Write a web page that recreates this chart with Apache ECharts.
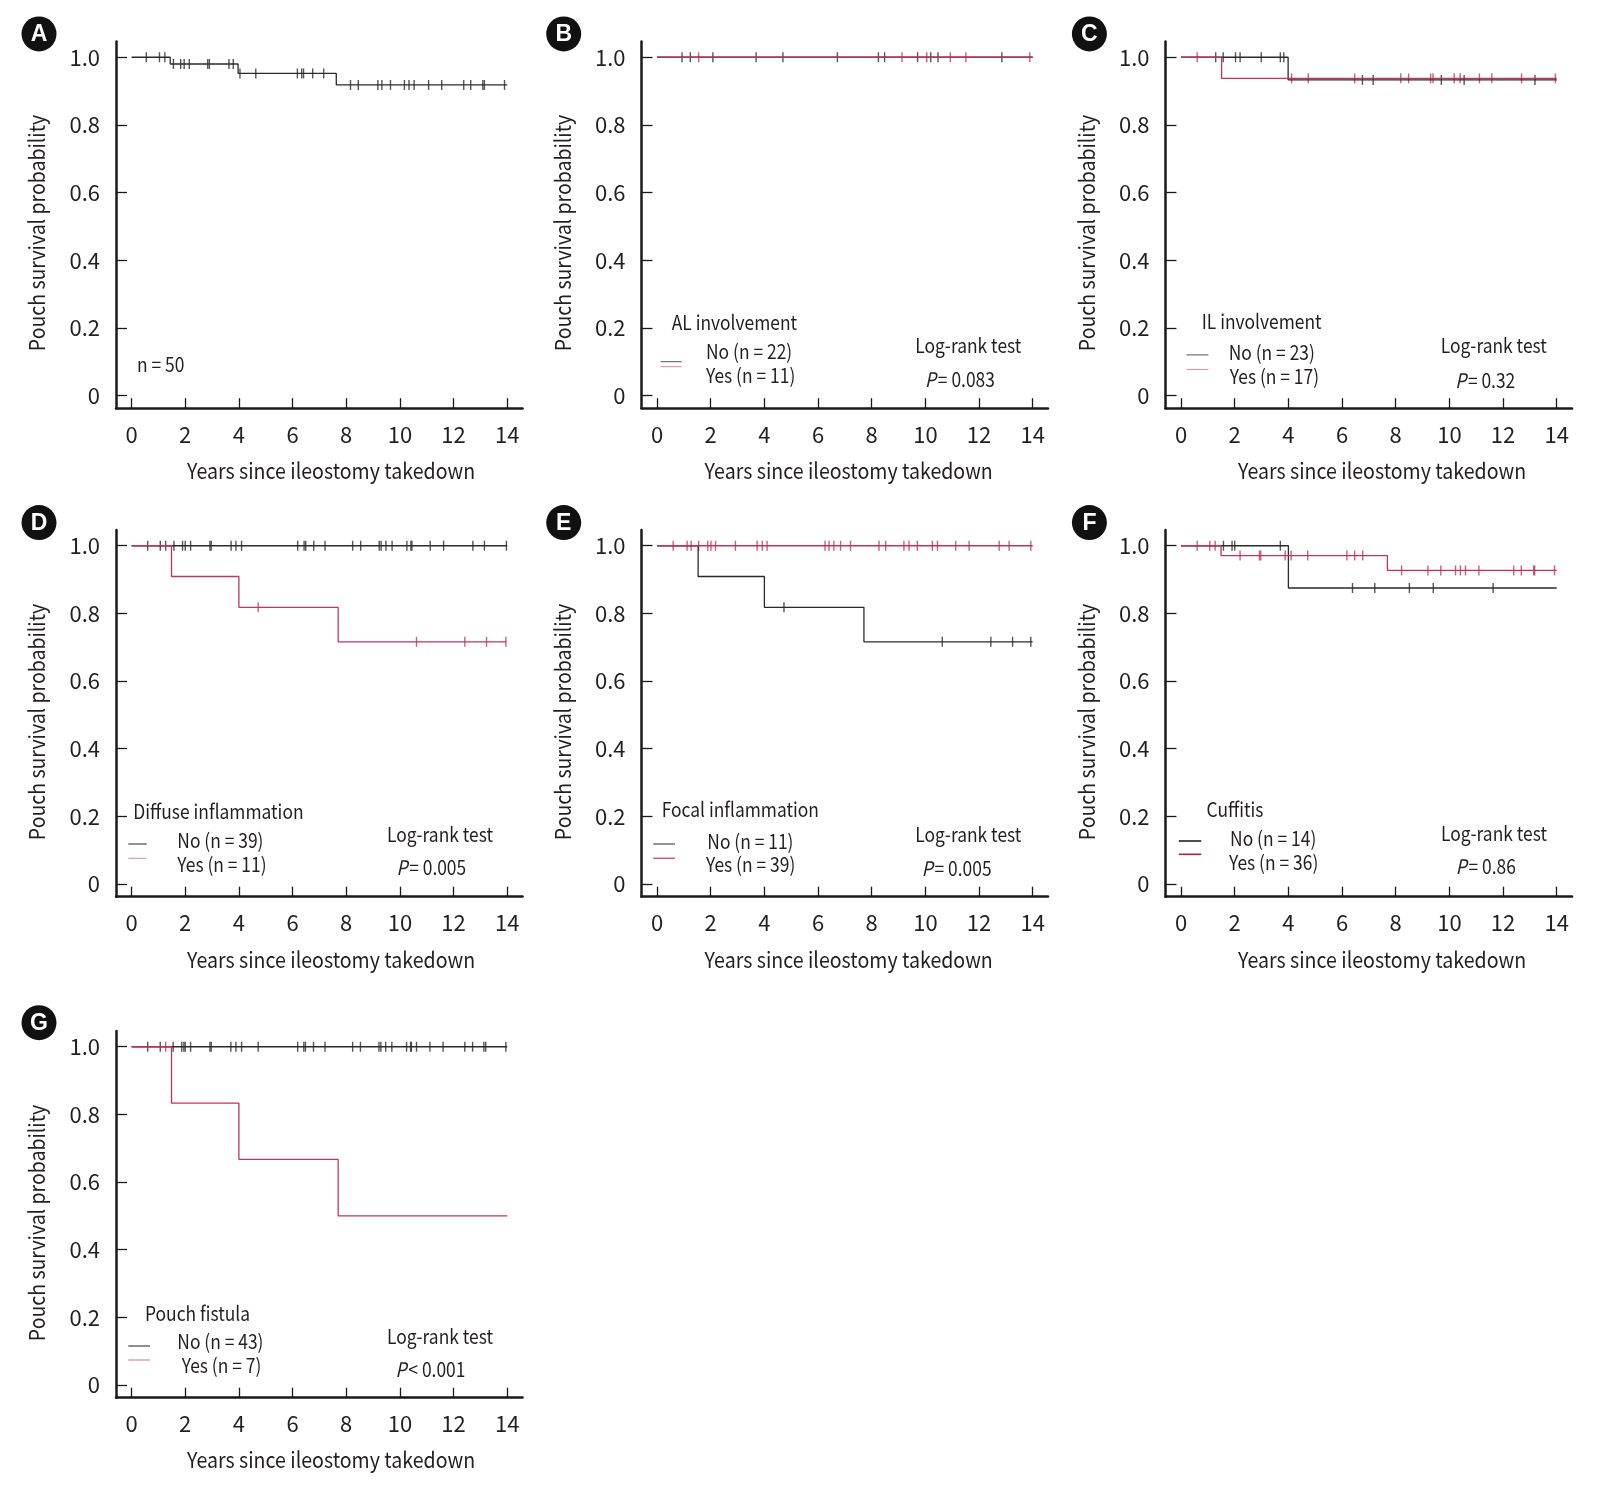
<!DOCTYPE html>
<html><head><meta charset="utf-8">
<script src="https://cdn.jsdelivr.net/npm/echarts@6/dist/echarts.min.js"></script>
<style>html,body{margin:0;padding:0;background:#fff}#c{width:1610px;height:1489px}</style>
</head><body><div id="c"></div>
<script>
// ---------- tick labels / texts ----------
const xTicks = [0, 2, 4, 6, 8, 10, 12, 14];
const yTicks = [0, 0.2, 0.4, 0.6, 0.8, 1.0];
const xTitle = 'Years since ileostomy takedown';
const yTitle = 'Pouch survival probability';
const panelLetters = ['A', 'B', 'C', 'D', 'E', 'F', 'G'];
const legendTitles = [null, 'AL involvement', 'IL involvement', 'Diffuse inflammation', 'Focal inflammation', 'Cuffitis', 'Pouch fistula'];
const legendNo = [null, 'No (n = 22)', 'No (n = 23)', 'No (n = 39)', 'No (n = 11)', 'No (n = 14)', 'No (n = 43)'];
const legendYes = [null, 'Yes (n = 11)', 'Yes (n = 17)', 'Yes (n = 11)', 'Yes (n = 39)', 'Yes (n = 36)', 'Yes (n = 7)'];
const pValues = [null, '= 0.083', '= 0.32', '= 0.005', '= 0.005', '= 0.86', '< 0.001'];
const nAllLabel = 'n = 50';

// ---------- Kaplan-Meier data (step times, survival after step, censor times) ----------
// A: all patients
const A_times = [0, 1.44, 3.97, 7.63, 14];
const A_surv  = [1, 0.98, 0.952, 0.918, 0.918];
const A_cens  = [0.55,1.04,1.24,1.56,1.83,1.96,2.15,2.84,2.90,3.63,3.79,4.04,4.63,6.18,6.34,6.41,6.75,7.16,8.16,8.45,9.18,9.33,9.65,10.17,10.34,10.53,11.07,11.56,12.38,12.64,13.09,13.15,13.90];
// B: AL involvement
const B_no_times = [0, 14];
const B_no_surv  = [1, 1];
const B_no_cens  = [0.93,1.24,2.08,3.69,4.69,6.72,8.25,8.48,9.71,10.20,10.47,12.85];
const B_yes_times = [0, 14];
const B_yes_surv  = [1, 1];
const B_yes_cens  = [1.55,9.13,10.05,10.93,11.51,13.89];
// C: IL involvement
const C_no_times = [0, 3.99, 14];
const C_no_surv  = [1, 0.933, 0.933];
const C_no_cens  = [1.29,1.57,2.03,2.20,2.99,3.70,3.83,6.76,7.16,9.70,10.55,13.19];
const C_yes_times = [0, 1.51, 14];
const C_yes_surv  = [1, 0.9375, 0.9375];
const C_yes_cens  = [0.60,4.12,4.74,6.47,8.19,8.48,9.30,9.39,10.18,10.40,11.12,11.58,12.69,13.95];
// D: Diffuse inflammation
const D_no_times = [0, 14];
const D_no_surv  = [1, 1];
const D_no_cens  = [0.60,1.07,1.27,1.58,1.90,2.00,2.20,2.92,2.97,3.71,3.89,4.10,6.19,6.43,6.49,6.79,7.21,8.24,8.54,9.23,9.30,9.48,9.71,10.26,10.41,10.45,11.13,11.63,12.72,13.15,13.97];
const D_yes_times = [0, 1.49, 4.0, 7.70, 13.97];
const D_yes_surv  = [1, 0.909, 0.818, 0.716, 0.716];
const D_yes_cens  = [4.72,10.62,12.42,13.23,13.95];
// E: Focal inflammation
const E_no_times = [0, 1.53, 4.0, 7.71, 14];
const E_no_surv  = [1, 0.909, 0.818, 0.716, 0.716];
const E_no_cens  = [4.73,10.63,12.44,13.25,13.93];
const E_yes_times = [0, 14];
const E_yes_surv  = [1, 1];
const E_yes_cens  = [0.60,1.12,1.27,1.55,1.89,2.01,2.18,2.92,3.73,3.92,4.10,6.26,6.41,6.59,6.84,7.21,8.27,8.52,9.20,9.39,9.70,10.26,10.45,11.13,11.63,12.75,13.12,13.93];
// F: Cuffitis
const F_no_times = [0, 4.0, 14];
const F_no_surv  = [1, 0.875, 0.875];
const F_no_cens  = [1.58,1.90,2.00,3.70,6.39,7.22,8.51,9.40,11.63];
const F_yes_times = [0, 1.49, 7.69, 14];
const F_yes_surv  = [1, 0.971, 0.927, 0.927];
const F_yes_cens  = [0.60,1.07,1.27,2.20,2.92,2.97,3.88,4.10,4.72,6.18,6.47,6.77,8.22,9.20,9.68,10.23,10.41,10.60,11.10,12.40,12.68,13.14,13.18,13.92];
// G: Pouch fistula
const G_no_times = [0, 14];
const G_no_surv  = [1, 1];
const G_no_cens  = [0.60,1.07,1.55,1.87,1.95,2.00,2.20,2.92,2.97,3.70,3.89,4.10,4.72,6.19,6.42,6.48,6.78,7.21,8.24,8.53,9.22,9.29,9.47,9.70,10.25,10.40,10.43,10.62,11.12,11.61,12.42,12.71,13.13,13.20,13.95];
const G_yes_times = [0, 1.49, 4.0, 7.70, 14];
const G_yes_surv  = [1, 0.833, 0.667, 0.5, 0.5];
const G_yes_cens  = [1.27];

// ---------- styling ----------
const BLACK = '#2b2b2b';
const RED = '#c2345c';
const FONT = '"Noto Sans CJK KR", "Noto Sans", sans-serif';
const TXT = '#231f20';
const SX = 0.87;   // horizontal condensing of annotation text

const panels = [
  { groups: [{ t: A_times, s: A_surv, c: A_cens, color: BLACK }] },
  { groups: [{ t: B_no_times, s: B_no_surv, c: B_no_cens, color: BLACK }, { t: B_yes_times, s: B_yes_surv, c: B_yes_cens, color: RED }] },
  { groups: [{ t: C_no_times, s: C_no_surv, c: C_no_cens, color: BLACK }, { t: C_yes_times, s: C_yes_surv, c: C_yes_cens, color: RED }] },
  { groups: [{ t: D_no_times, s: D_no_surv, c: D_no_cens, color: BLACK }, { t: D_yes_times, s: D_yes_surv, c: D_yes_cens, color: RED }] },
  { groups: [{ t: E_no_times, s: E_no_surv, c: E_no_cens, color: BLACK }, { t: E_yes_times, s: E_yes_surv, c: E_yes_cens, color: RED }] },
  { groups: [{ t: F_no_times, s: F_no_surv, c: F_no_cens, color: BLACK }, { t: F_yes_times, s: F_yes_surv, c: F_yes_cens, color: RED }] },
  { groups: [{ t: G_no_times, s: G_no_surv, c: G_no_cens, color: BLACK }, { t: G_yes_times, s: G_yes_surv, c: G_yes_cens, color: RED }] }
];

// ---------- layout (pixels) ----------
const colLeft = [116, 641.5, 1165.5];
const rowTop = [41.5, 530, 1031];
const GW = 406.5, GH = 366.7;
const panelPos = [[0,0],[1,0],[2,0],[0,1],[1,1],[2,1],[0,2]];
const circlePos = [[39,33.9],[563.7,33.9],[1089.4,33.9],[39,522.6],[563.7,522.6],[1089.4,522.6],[39,1022.7]];
const yTitlePos = [[37,233],[563,233],[1087,233],[37,722],[563,722],[1087,722],[37,1223]];
const xTitlePos = [[331,470.5],[848.7,470.5],[1382,470.5],[331,960],[848.7,960],[1382,960],[331,1460]];
const DY = -2;
const legPos = [
  null,
  { title:[671.7,324], no:[706,353.3], yes:[706,377.3], lx:[660.7,681.7], ly:[361.7,366.7], lr:[968.3,347.3], p:[960,381.7], c1:'#555', c2:'#d8889e', lw:1 },
  { title:[1201.7,323.8], no:[1228.7,354.2], yes:[1229.8,378.6], lx:[1186.5,1208.5], ly:[354.9,369.4], lr:[1493.8,347.5], p:[1485.2,382], c1:'#555', c2:'#d8889e', lw:1 },
  { title:[133.3,813.3], no:[177.3,842.7], yes:[177.3,866], lx:[128.3,146.7], ly:[844,858.3], lr:[440,836], p:[431.3,869.3], c1:'#222', c2:'#d8889e', lw:1 },
  { title:[661.7,811.7], no:[707.3,843.3], yes:[706,866], lx:[653.3,675], ly:[844,858.3], lr:[968.3,836.7], p:[956.7,870], c1:'#666', c2:'#d0507a', lw:1.4 },
  { title:[1206.5,811.2], no:[1230.1,840], yes:[1229,864.6], lx:[1178.8,1201.3], ly:[841,854.3], lr:[1494,835.8], p:[1485.8,868.7], c1:'#222', c2:'#b8204a', lw:1.6 },
  { title:[145,1315], no:[177.3,1343.3], yes:[181.7,1367.3], lx:[128.3,150], ly:[1346,1360], lr:[440,1338.3], p:[430.5,1371.7], c1:'#444', c2:'#d8889e', lw:1.2 }
];
const nAllPos = [137, 366];

function survAt(g, time) {
  let v = g.s[0];
  for (let i = 0; i < g.t.length; i++) if (g.t[i] <= time) v = g.s[i];
  return v;
}

function txt(x, y, text, size, align, extra) {
  return Object.assign({ type: 'text', x: x, y: y + DY, scaleX: SX,
    style: { text: text, fill: TXT, font: size + 'px ' + FONT, textAlign: align || 'left', textVerticalAlign: 'middle' } }, extra || {});
}

const grids = [], xAxes = [], yAxes = [], series = [], graphics = [];
panels.forEach((p, i) => {
  const [cx, ry] = panelPos[i];
  grids.push({ left: colLeft[cx], top: rowTop[ry], width: GW, height: GH });
  xAxes.push({
    type: 'value', gridIndex: i, min: -0.58, max: 14.57,
    axisLine: { show: true, onZero: false, lineStyle: { color: '#1a1a1a', width: 2.5 } },
    axisTick: { show: true, inside: true, length: 10, customValues: xTicks, lineStyle: { color: '#1a1a1a', width: 1.3 } },
    axisLabel: { show: true, customValues: xTicks, margin: 15, fontSize: 22, fontFamily: FONT, color: TXT },
    splitLine: { show: false }
  });
  yAxes.push({
    type: 'value', gridIndex: i, min: -0.0376, max: 1.0465,
    axisLine: { show: true, onZero: false, lineStyle: { color: '#1a1a1a', width: 2.5 } },
    axisTick: { show: true, inside: true, length: 11, customValues: yTicks, lineStyle: { color: '#1a1a1a', width: 1.3 } },
    axisLabel: { show: true, customValues: yTicks, margin: 16, fontSize: 22, fontFamily: FONT, color: TXT, padding: [0, 0, 4, 0],
      formatter: v => (Math.abs(v) < 1e-9 ? '0' : v.toFixed(1)) },
    splitLine: { show: false }
  });
  p.groups.forEach(g => {
    series.push({
      type: 'line', xAxisIndex: i, yAxisIndex: i, step: 'end', symbol: 'none', silent: true,
      data: g.t.map((t, k) => [t, g.s[k]]),
      lineStyle: { color: g.color, width: 1.3 }
    });
    series.push({
      type: 'scatter', xAxisIndex: i, yAxisIndex: i, symbol: 'rect', symbolSize: [1.4, 10], silent: true,
      data: g.c.map(t => [t, survAt(g, t)]),
      itemStyle: { color: g.color }
    });
  });

  // panel letter circle
  graphics.push({ type: 'circle', shape: { cx: circlePos[i][0], cy: circlePos[i][1], r: 17.5 }, style: { fill: '#111' } });
  graphics.push({ type: 'text', x: circlePos[i][0], y: circlePos[i][1] + 1,
    style: { text: panelLetters[i], fill: '#fff', font: 'bold 23px "Liberation Sans", Arial, sans-serif', textAlign: 'center', textVerticalAlign: 'middle' } });
  // axis titles
  graphics.push({ type: 'text', x: yTitlePos[i][0], y: yTitlePos[i][1], rotation: Math.PI / 2, scaleX: 0.885,
    style: { text: yTitle, fill: TXT, font: '22px ' + FONT, textAlign: 'center', textVerticalAlign: 'middle' } });
  graphics.push({ type: 'text', x: xTitlePos[i][0], y: xTitlePos[i][1], scaleX: 0.89,
    style: { text: xTitle, fill: TXT, font: '22px ' + FONT, textAlign: 'center', textVerticalAlign: 'middle' } });

  const L = legPos[i];
  if (L) {
    graphics.push(txt(L.title[0], L.title[1], legendTitles[i], 20));
    graphics.push(txt(L.no[0], L.no[1], legendNo[i], 20));
    graphics.push(txt(L.yes[0], L.yes[1], legendYes[i], 20));
    graphics.push({ type: 'line', shape: { x1: L.lx[0], y1: L.ly[0], x2: L.lx[1], y2: L.ly[0] }, style: { stroke: L.c1, lineWidth: L.lw } });
    graphics.push({ type: 'line', shape: { x1: L.lx[0], y1: L.ly[1], x2: L.lx[1], y2: L.ly[1] }, style: { stroke: L.c2, lineWidth: L.lw } });
    graphics.push(txt(L.lr[0], L.lr[1], 'Log-rank test', 20, 'center'));
    graphics.push({ type: 'text', x: L.p[0], y: L.p[1] + DY, scaleX: SX, style: {
      text: '{i|P}{n|' + pValues[i] + '}', textAlign: 'center', textVerticalAlign: 'middle',
      rich: { i: { fontStyle: 'italic', fontSize: 20, fontFamily: FONT, fill: TXT, padding: [0, 2, 0, 0] }, n: { fontSize: 20, fontFamily: FONT, fill: TXT } } } });
  }
});
graphics.push(txt(nAllPos[0], nAllPos[1], nAllLabel, 20));

const chart = echarts.init(document.getElementById('c'), null, { renderer: 'canvas' });
chart.setOption({
  backgroundColor: '#fff',
  animation: false,
  grid: grids, xAxis: xAxes, yAxis: yAxes, series: series, graphic: graphics
});
</script></body></html>
